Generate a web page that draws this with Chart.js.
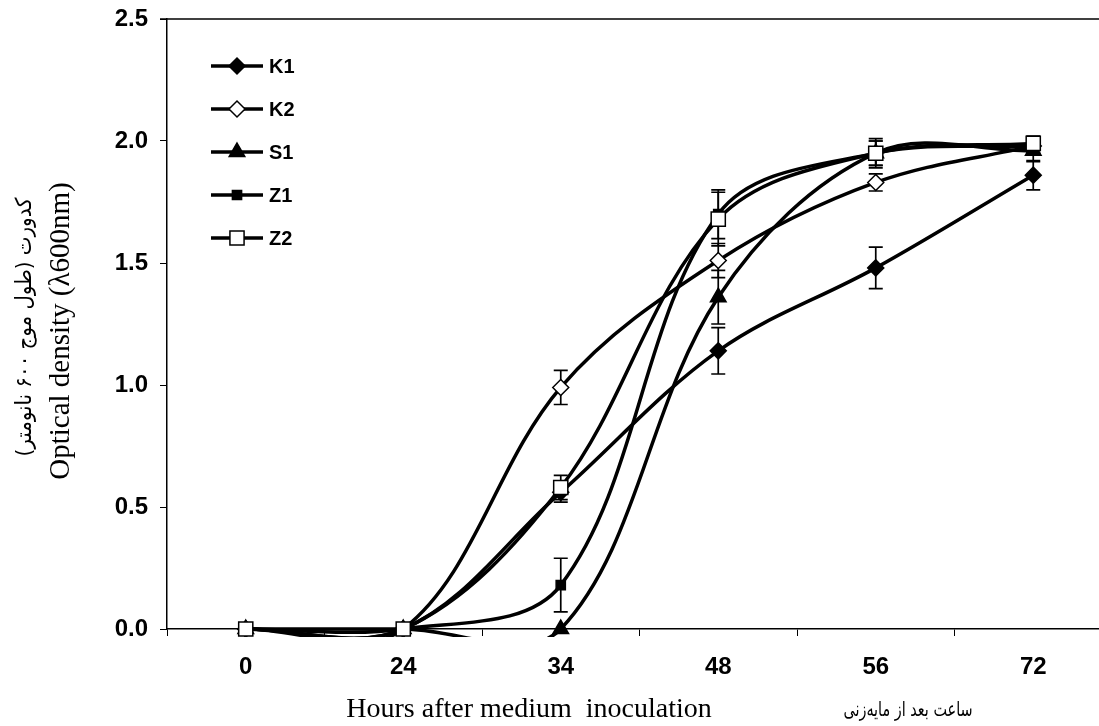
<!DOCTYPE html>
<html>
<head>
<meta charset="utf-8">
<script src="https://cdn.jsdelivr.net/npm/chart.js@4"></script>
<style>
html, body { margin: 0; padding: 0; overflow: hidden; background: #fff; }
#wrap { width: 1130px; height: 726px; }
</style>
</head>
<body>
<div id="wrap"><canvas id="growthChart" width="1130" height="726"></canvas></div>
<script>
// Horas después de la inoculación (categorías)
const hours = ['0', '24', '34', '48', '56', '72'];
const yTicks = [0, 0.5, 1.0, 1.5, 2.0, 2.5];

// Densidad óptica por cepa
const k1 = [0, 0, 0.56, 1.14, 1.48, 1.86];
const k2 = [0, 0, 0.99, 1.51, 1.83, 1.98];
const s1 = [0, 0, 0, 1.36, 1.95, 1.96];
const z1 = [0, 0, 0.18, 1.70, 1.95, 1.98];
const z2 = [0, 0, 0.58, 1.68, 1.95, 1.99];

// Barras de error
const errK1 = [0, 0, 0.04, 0.095, 0.085, 0.06];
const errK2 = [0, 0, 0.07, 0.07, 0.035, 0.03];
const errS1 = [0, 0, 0, 0.11, 0.05, 0.045];
const errZ1 = [0, 0, 0.11, 0.10, 0.05, 0.03];
const errZ2 = [0, 0, 0.05, 0.11, 0.06, 0.03];

const xTitle = 'Hours after medium  inoculation';
const xTitleFa = 'ساعت بعد از مایه‌زنی';
const yTitle = 'Optical density (λ600nm)';
const yTitleFa = 'کدورت (طول موج ۶۰۰ نانومتر)';

function serie(label, data, errors, style, radius, fill, order) {
    return {
        label: label,
        data: data,
        errors: errors,
        order: order,
        borderColor: '#000',
        borderWidth: 3.5,
        pointStyle: style,
        pointRadius: radius,
        pointHoverRadius: radius,
        pointBackgroundColor: fill,
        pointBorderColor: '#000',
        pointBorderWidth: 1.5,
        clip: { left: 10, top: 10, right: 10, bottom: 8 }
    };
}

const datasets = [
    serie('K1', k1, errK1, 'rectRot', 8, '#000', 5),
    serie('K2', k2, errK2, 'rectRot', 8, '#fff', 4),
    serie('S1', s1, errS1, 'triangle', 9, '#000', 3),
    serie('Z1', z1, errZ1, 'rect', 6.5, '#000', 2),
    serie('Z2', z2, errZ2, 'rect', 10, '#fff', 1)
];

// Barras de error dibujadas debajo de las líneas
const errorBars = {
    id: 'errorBars',
    beforeDatasetsDraw(chart) {
        const ctx = chart.ctx;
        const y = chart.scales.y;
        ctx.save();
        ctx.strokeStyle = '#000';
        ctx.lineWidth = 1.7;
        chart.data.datasets.forEach((ds, i) => {
            chart.getDatasetMeta(i).data.forEach((pt, j) => {
                const e = ds.errors[j];
                if (!e) return;
                const top = y.getPixelForValue(ds.data[j] + e);
                const bot = y.getPixelForValue(ds.data[j] - e);
                ctx.beginPath();
                ctx.moveTo(pt.x, top); ctx.lineTo(pt.x, bot);
                ctx.moveTo(pt.x - 7, top); ctx.lineTo(pt.x + 7, top);
                ctx.moveTo(pt.x - 7, bot); ctx.lineTo(pt.x + 7, bot);
                ctx.stroke();
            });
        });
        ctx.restore();
    }
};

// Leyenda, títulos y borde superior
const extras = {
    id: 'extras',
    afterDraw(chart) {
        const ctx = chart.ctx;
        const area = chart.chartArea;
        ctx.save();

        // borde superior del área
        ctx.strokeStyle = '#000';
        ctx.lineWidth = 1.5;
        ctx.beginPath();
        ctx.moveTo(area.left - 7, area.top);
        ctx.lineTo(area.right, area.top);
        ctx.stroke();

        // leyenda
        chart.data.datasets.forEach((ds, i) => {
            const ly = 66 + i * 43;
            ctx.strokeStyle = '#000';
            ctx.lineWidth = 3.5;
            ctx.beginPath();
            ctx.moveTo(211, ly); ctx.lineTo(263, ly);
            ctx.stroke();
            ctx.fillStyle = ds.pointBackgroundColor;
            ctx.lineWidth = ds.pointBorderWidth;
            Chart.helpers.drawPoint(ctx, {
                pointStyle: ds.pointStyle,
                radius: ds.pointRadius,
                borderWidth: ds.pointBorderWidth,
                rotation: 0
            }, 237, ly);
            ctx.fillStyle = '#000';
            ctx.font = 'bold 20px "Liberation Sans", Arial, sans-serif';
            ctx.textAlign = 'left';
            ctx.textBaseline = 'middle';
            ctx.fillText(ds.label, 269, ly + 1);
        });

        // título eje x
        ctx.fillStyle = '#000';
        ctx.textBaseline = 'middle';
        ctx.textAlign = 'center';
        ctx.font = '28px "Liberation Serif", "Times New Roman", serif';
        ctx.fillText(xTitle, 529, 710);
        ctx.save();
        ctx.translate(908, 711);
        ctx.scale(0.72, 1);
        ctx.direction = 'rtl';
        ctx.font = '20px "DejaVu Sans", sans-serif';
        ctx.fillText(xTitleFa, 0, 0);
        ctx.restore();

        // título eje y (rotado)
        ctx.save();
        ctx.translate(61, 331);
        ctx.rotate(-Math.PI / 2);
        ctx.direction = 'ltr';
        ctx.font = '29px "Liberation Serif", "Times New Roman", serif';
        ctx.fillText(yTitle, 0, 0);
        ctx.restore();
        ctx.save();
        ctx.translate(25, 327);
        ctx.rotate(-Math.PI / 2);
        ctx.scale(0.9, 1);
        ctx.direction = 'rtl';
        ctx.font = '22px "DejaVu Sans", sans-serif';
        ctx.fillText(yTitleFa, 0, 0);
        ctx.restore();

        ctx.restore();
    }
};

const ctx = document.getElementById('growthChart').getContext('2d');
const growthChart = new Chart(ctx, {
    type: 'line',
    data: { labels: hours, datasets: datasets },
    plugins: [errorBars, extras],
    options: {
        responsive: false,
        animation: false,
        devicePixelRatio: 1,
        layout: { padding: { top: 19, right: 18, left: 0, bottom: 0 } },
        elements: { line: { tension: 0.35, capBezierPoints: false } },
        plugins: { legend: { display: false }, tooltip: { enabled: false } },
        scales: {
            x: {
                offset: true,
                grid: { offset: true, drawOnChartArea: false, color: '#000', tickLength: 7, tickWidth: 1 },
                border: { color: '#000', width: 1.5 },
                ticks: {
                    color: '#000',
                    padding: 17,
                    maxRotation: 0,
                    font: { family: '"Liberation Sans", Arial, sans-serif', size: 24, weight: 'bold' }
                },
                afterFit: s => { s.height = 97; s.paddingLeft = 0; s.paddingRight = 0; }
            },
            y: {
                min: 0,
                max: 2.5,
                afterBuildTicks: s => { s.ticks = yTicks.map(v => ({ value: v })); },
                grid: { drawOnChartArea: false, color: '#000', tickLength: 7, tickWidth: 1 },
                border: { color: '#000', width: 1.5 },
                ticks: {
                    color: '#000',
                    padding: 12,
                    callback: v => Number(v).toFixed(1),
                    font: { family: '"Liberation Sans", Arial, sans-serif', size: 24, weight: 'bold' }
                },
                afterFit: s => { s.width = 167; s.paddingTop = 0; s.paddingBottom = 0; }
            }
        }
    }
});
</script>
</body>
</html>
